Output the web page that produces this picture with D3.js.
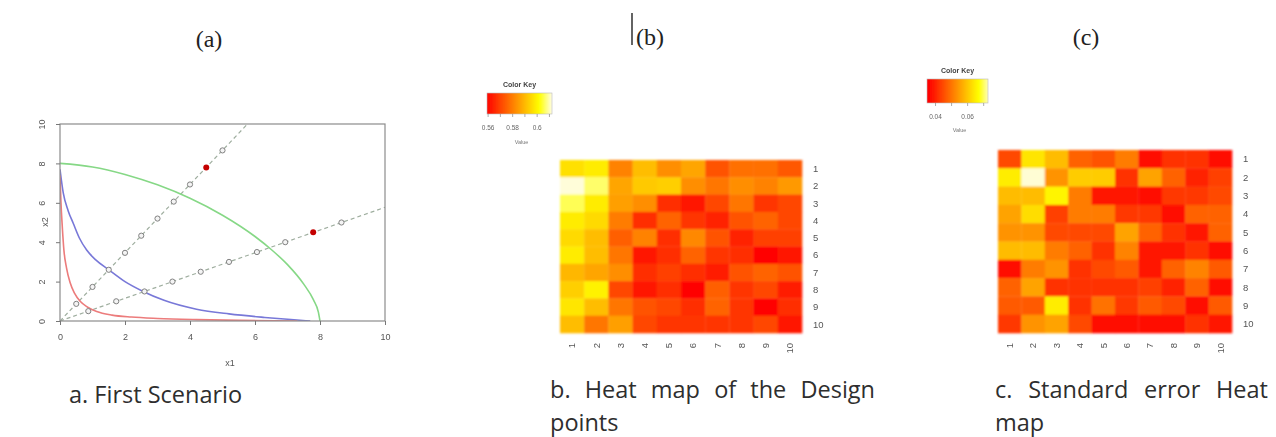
<!DOCTYPE html>
<html>
<head>
<meta charset="utf-8">
<script src="https://cdn.jsdelivr.net/npm/d3@7"></script>
<style>
body { margin: 0; background: #fff; }
svg { display: block; }
</style>
</head>
<body>
<div id="chart"></div>
<script>
// ---- panel (a) data ----
var greenCurve = [[0,8],[1,7.82],[2,7.44],[3,6.91],[4,6.23],[5,5.37],[6,4.29],[6.5,3.63],[7,2.86],[7.5,1.87],[7.8,1.07],[7.95,0.45],[8,0]];
var blueCurve = [[0,7.7],[0.1,6.5],[0.25,5.6],[0.41,4.95],[0.6,4.2],[0.82,3.6],[1.1,3.1],[1.5,2.6],[2,2.0],[2.56,1.5],[3.2,1.05],[4.2,0.6],[5.2,0.36],[6.3,0.18],[7.2,0.06],[7.7,0]];
var redCurve = [[0,7.4],[0.03,6.0],[0.07,4.8],[0.12,3.6],[0.2,2.7],[0.31,1.95],[0.45,1.4],[0.62,1.0],[0.85,0.7],[1.13,0.48],[1.6,0.3],[2.2,0.2],[3,0.13],[4.2,0.07],[5.5,0.03],[7.3,0]];
var rays = [[[0,0],[5.77,10]], [[0,0],[10,5.77]]];
var designPts = [[0.5,0.87],[1,1.73],[1.5,2.6],[2,3.46],[2.5,4.33],[3,5.2],[3.5,6.06],[4,6.93],[5,8.66],
                 [0.87,0.5],[1.73,1],[2.6,1.5],[3.46,2],[4.33,2.5],[5.2,3],[6.06,3.5],[6.93,4],[8.66,5]];
var chosenPts = [[4.5,7.79],[7.79,4.5]];
var axisTicksA = [0,2,4,6,8,10];

// ---- panel (b) heat map: design points ----
var heatB = [
  [0.597,0.599,0.581,0.591,0.583,0.587,0.573,0.578,0.578,0.574],
  [0.612,0.607,0.587,0.593,0.594,0.583,0.579,0.583,0.581,0.585],
  [0.606,0.599,0.586,0.583,0.567,0.563,0.571,0.579,0.568,0.571],
  [0.599,0.596,0.580,0.567,0.576,0.568,0.565,0.573,0.576,0.571],
  [0.596,0.591,0.575,0.581,0.567,0.582,0.573,0.565,0.570,0.570],
  [0.599,0.591,0.579,0.563,0.567,0.576,0.568,0.567,0.560,0.563],
  [0.590,0.587,0.583,0.567,0.570,0.567,0.564,0.573,0.576,0.573],
  [0.594,0.600,0.571,0.563,0.567,0.560,0.575,0.568,0.571,0.564],
  [0.598,0.591,0.579,0.573,0.571,0.567,0.576,0.568,0.560,0.567],
  [0.591,0.579,0.586,0.571,0.568,0.568,0.568,0.568,0.571,0.563]
];
var keyTicksB = [0.56,0.57,0.58,0.59,0.60,0.61];
var keyLabelsB = [0.56,0.58,0.60];

// ---- panel (c) heat map: standard error ----
var heatC = [
  [0.045,0.064,0.059,0.048,0.046,0.051,0.037,0.042,0.042,0.037],
  [0.065,0.074,0.054,0.061,0.061,0.042,0.056,0.048,0.040,0.044],
  [0.059,0.059,0.066,0.051,0.039,0.039,0.038,0.043,0.043,0.045],
  [0.056,0.063,0.044,0.051,0.051,0.043,0.043,0.037,0.048,0.048],
  [0.054,0.054,0.045,0.045,0.045,0.056,0.048,0.042,0.039,0.048],
  [0.059,0.059,0.051,0.048,0.042,0.052,0.039,0.039,0.042,0.037],
  [0.037,0.051,0.054,0.042,0.045,0.047,0.039,0.048,0.052,0.047],
  [0.048,0.056,0.042,0.042,0.042,0.042,0.044,0.040,0.048,0.037],
  [0.047,0.047,0.065,0.042,0.050,0.043,0.047,0.045,0.037,0.047],
  [0.043,0.054,0.056,0.045,0.038,0.037,0.037,0.037,0.042,0.039]
];
var keyTicksC = [0.04,0.05,0.06,0.07];
var keyLabelsC = [0.04,0.06];

var rowsCols = d3.range(1, 11);

var svg = d3.select("#chart").append("svg")
    .attr("width", 1276)
    .attr("height", 437);

var defs = svg.append("defs");
defs.append("filter").attr("id", "soft")
    .append("feGaussianBlur").attr("stdDeviation", 0.6);
defs.append("filter").attr("id", "softer")
    .append("feGaussianBlur").attr("stdDeviation", 0.9);

// ---- titles ----
var titles = [{t:"(a)", x:209, y:47}, {t:"(b)", x:650, y:45}, {t:"(c)", x:1086, y:45}];
svg.selectAll("text.title")
    .data(titles)
    .enter()
    .append("text")
    .attr("class", "title")
    .attr("x", function(d){ return d.x; })
    .attr("y", function(d){ return d.y; })
    .attr("text-anchor", "middle")
    .attr("font-family", "Liberation Serif, serif")
    .attr("font-size", 24)
    .attr("fill", "#222")
    .text(function(d){ return d.t; });
// the text cursor visible next to (b)
svg.append("line")
    .attr("x1", 632).attr("x2", 632).attr("y1", 13).attr("y2", 45)
    .attr("stroke", "#222").attr("stroke-width", 1.4);

// ---- panel (a) ----
var xA = d3.scaleLinear().domain([0, 10]).range([60, 385]);
var yA = d3.scaleLinear().domain([0, 10]).range([321, 124]);
var gA = svg.append("g").attr("filter", "url(#soft)");

defs.append("clipPath").attr("id", "clipA")
    .append("rect").attr("x", 60).attr("y", 124).attr("width", 325).attr("height", 197);

var plotA = gA.append("g").attr("clip-path", "url(#clipA)");
var line = d3.line()
    .x(function(d){ return xA(d[0]); })
    .y(function(d){ return yA(d[1]); });

plotA.selectAll("path.ray")
    .data(rays)
    .enter()
    .append("path")
    .attr("class", "ray")
    .attr("d", line)
    .attr("fill", "none")
    .attr("stroke", "#9fae9f")
    .attr("stroke-width", 1.2)
    .attr("stroke-dasharray", "4,3");

var smooth = d3.line()
    .x(function(d){ return xA(d[0]); })
    .y(function(d){ return yA(d[1]); })
    .curve(d3.curveMonotoneX);

var curves = [{d:greenCurve, c:"#86d886"}, {d:blueCurve, c:"#7878d8"}, {d:redCurve, c:"#ec7b7b"}];
plotA.selectAll("path.curve")
    .data(curves)
    .enter()
    .append("path")
    .attr("class", "curve")
    .attr("d", function(d){ return smooth(d.d); })
    .attr("fill", "none")
    .attr("stroke", function(d){ return d.c; })
    .attr("stroke-width", 1.6);

plotA.selectAll("circle.design")
    .data(designPts)
    .enter()
    .append("circle")
    .attr("class", "design")
    .attr("cx", function(d){ return xA(d[0]); })
    .attr("cy", function(d){ return yA(d[1]); })
    .attr("r", 2.6)
    .attr("fill", "#f4f4f4")
    .attr("stroke", "#808080")
    .attr("stroke-width", 1);

plotA.selectAll("circle.chosen")
    .data(chosenPts)
    .enter()
    .append("circle")
    .attr("class", "chosen")
    .attr("cx", function(d){ return xA(d[0]); })
    .attr("cy", function(d){ return yA(d[1]); })
    .attr("r", 3)
    .attr("fill", "#c40000");

gA.append("rect")
    .attr("x", 60).attr("y", 124).attr("width", 325).attr("height", 197)
    .attr("fill", "none").attr("stroke", "#8c8c8c").attr("stroke-width", 1.2);

var axX = gA.append("g")
    .attr("transform", "translate(0,321)")
    .call(d3.axisBottom(xA).tickValues(axisTicksA).tickSize(4).tickPadding(9));
var axY = gA.append("g")
    .attr("transform", "translate(60,0)")
    .call(d3.axisLeft(yA).tickValues(axisTicksA).tickSize(4));
[axX, axY].forEach(function(ax){
    ax.select(".domain").remove();
    ax.selectAll("line").attr("stroke", "#777");
    ax.selectAll("text").attr("fill", "#555").attr("font-size", 9).attr("font-family", "Liberation Sans, Arial, sans-serif");
});
axY.selectAll("text")
    .attr("x", null).attr("dy", "0.35em")
    .attr("text-anchor", "middle")
    .attr("transform", "translate(-18,0) rotate(-90)");

gA.append("text")
    .attr("x", 230).attr("y", 366)
    .attr("text-anchor", "middle")
    .attr("font-size", 9).attr("font-family", "Liberation Sans, Arial, sans-serif")
    .attr("fill", "#555")
    .text("x1");
gA.append("text")
    .attr("transform", "translate(48,222) rotate(-90)")
    .attr("text-anchor", "middle")
    .attr("font-size", 9).attr("font-family", "Liberation Sans, Arial, sans-serif")
    .attr("fill", "#555")
    .text("x2");

// ---- heat maps ----
function heatScale(domain) {
    return d3.scaleLinear().domain(domain)
        .range(["#ff0000", "#ffff00", "#fffde4"]).clamp(true);
}

function drawHeat(opt) {
    var color = heatScale(opt.colorDomain);
    var g = svg.append("g");
    var x = d3.scaleBand().domain(rowsCols).range(opt.xr);
    var y = d3.scaleBand().domain(rowsCols).range(opt.yr);

    var cells = [];
    opt.data.forEach(function(row, i){
        row.forEach(function(v, j){ cells.push({r: i + 1, c: j + 1, v: v}); });
    });

    g.append("g").attr("filter", "url(#softer)")
        .selectAll("rect")
        .data(cells)
        .enter()
        .append("rect")
        .attr("x", function(d){ return x(d.c); })
        .attr("y", function(d){ return y(d.r); })
        .attr("width", x.bandwidth() + 0.3)
        .attr("height", y.bandwidth() + 0.3)
        .attr("fill", function(d){ return color(d.v); });

    var lab = g.append("g").attr("filter", "url(#soft)")
        .attr("font-family", "Liberation Sans, Arial, sans-serif")
        .attr("font-size", 9.5).attr("fill", "#555");
    lab.selectAll("text.row")
        .data(rowsCols)
        .enter()
        .append("text")
        .attr("class", "row")
        .attr("x", opt.xr[1] + 11)
        .attr("y", function(d){ return y(d) + y.bandwidth() / 2; })
        .attr("dy", "0.35em")
        .text(function(d){ return d; });
    lab.selectAll("text.col")
        .data(rowsCols)
        .enter()
        .append("text")
        .attr("class", "col")
        .attr("text-anchor", "end")
        .attr("dy", "0.35em")
        .attr("transform", function(d){ return "translate(" + (x(d) + x.bandwidth() / 2) + "," + (opt.yr[1] + 10) + ") rotate(-90)"; })
        .text(function(d){ return d; });

    // colour key
    var k = opt.key;
    var gid = "grad" + opt.id;
    var grad = defs.append("linearGradient").attr("id", gid);
    var kd = d3.scaleLinear().domain([0, 20]).range([k.domain[0], k.domain[1]]);
    d3.range(21).forEach(function(i){
        grad.append("stop").attr("offset", (i * 5) + "%").attr("stop-color", color(kd(i)));
    });
    var kg = svg.append("g").attr("filter", "url(#soft)")
        .attr("font-family", "Liberation Sans, Arial, sans-serif");
    kg.append("rect")
        .attr("x", k.x0).attr("y", k.y0)
        .attr("width", k.x1 - k.x0).attr("height", k.y1 - k.y0)
        .attr("fill", "url(#" + gid + ")")
        .attr("stroke", "#bbb").attr("stroke-width", 0.6);
    var ks = d3.scaleLinear().domain(k.domain).range([k.x0, k.x1]);
    var kax = kg.append("g")
        .attr("transform", "translate(0," + k.y1 + ")")
        .call(d3.axisBottom(ks).tickValues(k.ticks).tickSize(3).tickPadding(8)
            .tickFormat(function(d){
                var hit = k.labels.some(function(l){ return Math.abs(l - d) < 1e-9; });
                return hit ? d3.format("~g")(d) : "";
            }));
    kax.select(".domain").remove();
    kax.selectAll("line").attr("stroke", "#888").attr("stroke-width", 0.7);
    kax.selectAll("text").attr("font-size", 6.5).attr("fill", "#666").attr("font-family", null);
    kg.append("text")
        .attr("x", (k.x0 + k.x1) / 2).attr("y", k.y0 - 6)
        .attr("text-anchor", "middle")
        .attr("font-size", 7).attr("font-weight", "bold").attr("fill", "#444")
        .text("Color Key");
    kg.append("text")
        .attr("x", (k.x0 + k.x1) / 2 + 2).attr("y", k.valueY)
        .attr("text-anchor", "middle")
        .attr("font-size", 5.5).attr("fill", "#777")
        .text("Value");
}

drawHeat({
    id: "b", data: heatB, xr: [560, 802], yr: [160, 333],
    colorDomain: [0.559, 0.6022, 0.6125],
    key: {x0: 487, x1: 552, y0: 93, y1: 114, domain: [0.5595, 0.6125],
          ticks: keyTicksB, labels: keyLabelsB, valueY: 144}
});
drawHeat({
    id: "c", data: heatC, xr: [998, 1232], yr: [150, 333],
    colorDomain: [0.036, 0.0672, 0.0745],
    key: {x0: 927, x1: 988, y0: 79, y1: 103, domain: [0.035, 0.073],
          ticks: keyTicksC, labels: keyLabelsC, valueY: 132}
});

// ---- captions (justified first line like the source page) ----
function caption(lines, x, width, y0, lh) {
    var g = svg.append("g")
        .attr("font-family", "Open Sans, sans-serif")
        .attr("font-size", 23.5)
        .attr("fill", "#2e2e2e");
    lines.forEach(function(txt, li){
        var words = txt.split(" ");
        var y = y0 + li * lh;
        var justify = li < lines.length - 1 && width;
        if (!justify) {
            g.append("text").attr("x", x).attr("y", y).text(txt);
            return;
        }
        var nodes = words.map(function(w){
            return g.append("text").attr("y", y).text(w);
        });
        var widths = nodes.map(function(n){ return n.node().getComputedTextLength(); });
        var gap = (width - d3.sum(widths)) / (words.length - 1);
        var cx = x;
        nodes.forEach(function(n, i){
            n.attr("x", cx);
            cx += widths[i] + gap;
        });
    });
}
caption(["a. First Scenario"], 69, null, 403, 35);
caption(["b. Heat map of the Design", "points"], 550, 325, 398, 33);
caption(["c. Standard error Heat", "map"], 995, 273, 398, 33);
</script>
</body>
</html>
